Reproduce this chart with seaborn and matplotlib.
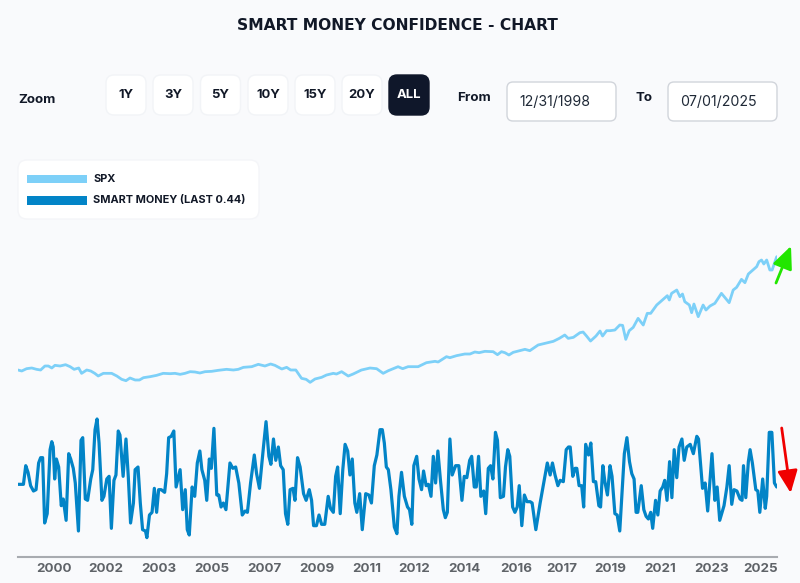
import matplotlib
matplotlib.use("Agg")
import matplotlib.pyplot as plt
from matplotlib.patches import FancyBboxPatch, Rectangle
import pandas as pd
import seaborn as sns

TITLE = "SMART MONEY CONFIDENCE - CHART"
range_buttons = ["1Y", "3Y", "5Y", "10Y", "15Y", "20Y", "ALL"]
legend_labels = ["SPX", "SMART MONEY (LAST 0.44)"]
date_from = "12/31/1998"
date_to = "07/01/2025"

tick_years = [2000.26, 2002.07, 2003.92, 2005.77, 2007.59, 2009.44, 2011.19, 2012.83,
              2014.57, 2016.39, 2018.0, 2019.67, 2021.42, 2023.2, 2024.94]
tick_labels = ["2000", "2002", "2003", "2005", "2007", "2009", "2011", "2012",
               "2014", "2016", "2017", "2019", "2021", "2023", "2025"]

spx_years = [1999.00, 1999.13, 1999.30, 1999.48, 1999.65, 1999.79, 1999.94, 2000.06, 2000.18, 2000.29,
             2000.47, 2000.66, 2000.82, 2000.96, 2001.12, 2001.22, 2001.40, 2001.54, 2001.68, 2001.80,
             2001.98, 2002.12, 2002.27, 2002.45, 2002.62, 2002.77, 2002.91, 2003.09, 2003.24, 2003.38,
             2003.61, 2003.84, 2004.07, 2004.31, 2004.48, 2004.66, 2004.83, 2005.01, 2005.18, 2005.35,
             2005.53, 2005.76, 2005.99, 2006.28, 2006.52, 2006.69, 2006.87, 2007.16, 2007.39, 2007.62,
             2007.82, 2007.97, 2008.21, 2008.38, 2008.52, 2008.70, 2008.90, 2009.06, 2009.20, 2009.37,
             2009.60, 2009.77, 2010.01, 2010.12, 2010.30, 2010.53, 2010.70, 2010.99, 2011.29, 2011.52,
             2011.75, 2011.93, 2012.27, 2012.43, 2012.62, 2012.97, 2013.26, 2013.56, 2013.67, 2013.96,
             2014.08, 2014.31, 2014.60, 2014.78, 2014.95, 2015.10, 2015.30, 2015.59, 2015.74, 2015.88,
             2016.00, 2016.14, 2016.29, 2016.52, 2016.70, 2016.87, 2017.16, 2017.45, 2017.69, 2017.90,
             2018.09, 2018.21, 2018.39, 2018.62, 2018.73, 2018.85, 2018.99, 2019.18, 2019.32, 2019.41,
             2019.55, 2019.67, 2019.84, 2020.01, 2020.11, 2020.22, 2020.34, 2020.48, 2020.65, 2020.83,
             2020.97, 2021.09, 2021.30, 2021.47, 2021.67, 2021.74, 2021.82, 2022.00, 2022.11, 2022.20,
             2022.28, 2022.44, 2022.52, 2022.60, 2022.75, 2022.92, 2023.02, 2023.16, 2023.33, 2023.56,
             2023.83, 2023.97, 2024.09, 2024.26, 2024.38, 2024.50, 2024.79, 2024.87, 2024.96, 2025.04,
             2025.14, 2025.25, 2025.33, 2025.49]
spx_values = [1229, 1185, 1287, 1317, 1258, 1229, 1405, 1405, 1317, 1434,
              1405, 1463, 1375, 1258, 1317, 1082, 1229, 1185, 1082, 965,
              1082, 1082, 1082, 965, 818, 759, 877, 789, 789, 891,
              935, 994, 1082, 1067, 1082, 1038, 1082, 1155, 1141, 1097,
              1155, 1170, 1214, 1258, 1229, 1258, 1346, 1375, 1478, 1405,
              1493, 1434, 1273, 1346, 1229, 1229, 862, 818, 686, 833,
              906, 1008, 1082, 1052, 1155, 964, 1052, 1228, 1316, 1287,
              1082, 1199, 1375, 1287, 1375, 1375, 1551, 1610, 1581, 1815,
              1771, 1859, 1933, 1933, 2021, 1991, 2050, 2035, 1903, 2035,
              1991, 1889, 2006, 2079, 2138, 2079, 2329, 2417, 2490, 2622,
              2768, 2621, 2665, 2871, 2900, 2724, 2504, 2724, 2944, 2724,
              2959, 2959, 2988, 3208, 3193, 2577, 2959, 3105, 3501, 3208,
              3722, 3722, 4088, 4279, 4499, 4308, 4602, 4748, 4455, 4572,
              4235, 4088, 3751, 4132, 3575, 4088, 3868, 4044, 4162, 4602,
              4191, 4748, 4866, 5218, 5071, 5453, 5775, 5995, 6069, 5893,
              6069, 5629, 5629, 6215]

smart_years = [1999.00, 1999.19, 1999.27, 1999.35, 1999.44, 1999.54, 1999.63, 1999.72, 1999.79, 1999.86,
               1999.93, 2000.02, 2000.12, 2000.18, 2000.23, 2000.28, 2000.34, 2000.42, 2000.51, 2000.58,
               2000.68, 2000.77, 2000.84, 2000.93, 2001.00, 2001.11, 2001.20, 2001.26, 2001.35, 2001.43,
               2001.54, 2001.61, 2001.69, 2001.76, 2001.83, 2001.93, 2002.00, 2002.10, 2002.18, 2002.26,
               2002.35, 2002.42, 2002.50, 2002.56, 2002.67, 2002.77, 2002.85, 2002.93, 2003.03, 2003.09,
               2003.19, 2003.27, 2003.35, 2003.45, 2003.50, 2003.59, 2003.68, 2003.76, 2003.84, 2003.91,
               2004.00, 2004.12, 2004.19, 2004.26, 2004.35, 2004.44, 2004.52, 2004.66, 2004.75, 2004.84,
               2004.91, 2004.98, 2005.08, 2005.17, 2005.26, 2005.35, 2005.42, 2005.52, 2005.59, 2005.68,
               2005.75, 2005.84, 2005.94, 2006.01, 2006.09, 2006.17, 2006.26, 2006.40, 2006.50, 2006.60,
               2006.71, 2006.83, 2006.93, 2007.01, 2007.12, 2007.25, 2007.33, 2007.43, 2007.57, 2007.66,
               2007.76, 2007.83, 2007.92, 2008.00, 2008.09, 2008.17, 2008.26, 2008.34, 2008.42, 2008.50,
               2008.60, 2008.67, 2008.76, 2008.85, 2008.97, 2009.06, 2009.17, 2009.25, 2009.32, 2009.42,
               2009.51, 2009.60, 2009.71, 2009.83, 2009.91, 2010.01, 2010.09, 2010.16, 2010.25, 2010.34,
               2010.42, 2010.51, 2010.59, 2010.67, 2010.76, 2010.83, 2010.93, 2011.02, 2011.14, 2011.25,
               2011.34, 2011.44, 2011.53, 2011.64, 2011.72, 2011.79, 2011.86, 2011.93, 2012.02, 2012.14,
               2012.23, 2012.30, 2012.39, 2012.49, 2012.60, 2012.67, 2012.75, 2012.82, 2012.92, 2013.00,
               2013.09, 2013.16, 2013.25, 2013.33, 2013.42, 2013.50, 2013.58, 2013.66, 2013.75, 2013.85,
               2013.92, 2013.99, 2014.08, 2014.16, 2014.28, 2014.39, 2014.50, 2014.58, 2014.67, 2014.77,
               2014.84, 2014.93, 2015.00, 2015.08, 2015.16, 2015.26, 2015.33, 2015.42, 2015.50, 2015.58,
               2015.67, 2015.74, 2015.84, 2015.95, 2016.02, 2016.10, 2016.17, 2016.27, 2016.35, 2016.43,
               2016.50, 2016.59, 2016.68, 2016.77, 2016.88, 2016.95, 2017.08, 2017.23, 2017.34, 2017.48,
               2017.58, 2017.66, 2017.75, 2017.85, 2017.93, 2018.04, 2018.14, 2018.22, 2018.28, 2018.37,
               2018.45, 2018.51, 2018.59, 2018.68, 2018.75, 2018.82, 2018.92, 2019.00, 2019.09, 2019.17,
               2019.28, 2019.34, 2019.42, 2019.49, 2019.58, 2019.67, 2019.74, 2019.84, 2019.92, 2020.01,
               2020.09, 2020.17, 2020.26, 2020.35, 2020.43, 2020.51, 2020.58, 2020.64, 2020.76, 2020.85,
               2020.93, 2021.01, 2021.09, 2021.16, 2021.26, 2021.34, 2021.42, 2021.51, 2021.58, 2021.66,
               2021.75, 2021.83, 2021.91, 2022.00, 2022.08, 2022.18, 2022.26, 2022.35, 2022.47, 2022.58,
               2022.70, 2022.76, 2022.90, 2022.99, 2023.08, 2023.23, 2023.33, 2023.41, 2023.50, 2023.65,
               2023.75, 2023.83, 2023.92, 2024.00, 2024.10, 2024.21, 2024.28, 2024.33, 2024.41, 2024.50,
               2024.56, 2024.64, 2024.76, 2024.83, 2024.90, 2025.00, 2025.09, 2025.14, 2025.23, 2025.32,
               2025.41, 2025.49]
smart_values = [.46, .46, .60, .55, .45, .41, .42, .62, .66, .66,
                .17, .24, .72, .78, .74, .50, .65, .59, .30, .35,
                .19, .69, .65, .58, .47, .11, .79, .81, .35, .34,
                .50, .57, .87, .95, .77, .34, .37, .50, .52, .13,
                .49, .53, .86, .83, .52, .80, .52, .17, .32, .57,
                .59, .32, .12, .11, .06, .23, .25, .43, .25, .42,
                .42, .40, .54, .81, .82, .86, .44, .57, .27, .42,
                .12, .08, .44, .37, .62, .71, .57, .49, .34, .65,
                .58, .88, .38, .38, .29, .32, .27, .62, .58, .59,
                .47, .23, .26, .25, .47, .68, .54, .43, .74, .93,
                .67, .61, .80, .64, .74, .60, .57, .24, .16, .42,
                .43, .34, .66, .59, .39, .34, .42, .34, .15, .15,
                .23, .16, .16, .37, .28, .25, .52, .59, .24, .57,
                .76, .71, .53, .65, .32, .25, .39, .12, .39, .38,
                .32, .60, .68, .87, .87, .77, .59, .57, .42, .14,
                .09, .37, .55, .37, .29, .27, .16, .60, .67, .50,
                .42, .56, .45, .46, .37, .67, .47, .71, .49, .27,
                .21, .25, .80, .53, .60, .60, .34, .52, .51, .64,
                .67, .44, .44, .67, .37, .41, .24, .58, .60, .50,
                .85, .79, .36, .37, .59, .72, .67, .29, .25, .29,
                .45, .15, .38, .33, .33, .32, .12, .32, .45, .62,
                .53, .62, .53, .45, .49, .48, .72, .74, .74, .52,
                .58, .58, .45, .45, .29, .76, .68, .77, .48, .48,
                .30, .29, .60, .48, .38, .60, .52, .24, .23, .11,
                .40, .69, .81, .63, .54, .50, .25, .25, .45, .27,
                .22, .20, .25, .13, .34, .23, .41, .44, .49, .34,
                .63, .36, .72, .51, .74, .80, .64, .74, .76, .69,
                .82, .80, .43, .47, .26, .69, .34, .44, .19, .30,
                .44, .60, .31, .42, .41, .35, .34, .60, .36, .63,
                .72, .62, .42, .41, .25, .50, .28, .37, .85, .85,
                .47, .44]

BG = "#f9fafc"
SPX_COLOR = "#7dd0f8"
SMART_COLOR = "#0284c7"
INK = "#111827"
FONT = "Inter"

sns.set_theme(style="white", rc={"font.family": FONT})
W, H = 800, 583
fig = plt.figure(figsize=(W / 100, H / 100), dpi=100, facecolor=BG)


def axes_px(x0, y0, x1, y1, **kw):
    return fig.add_axes([x0 / W, 1 - y1 / H, (x1 - x0) / W, (y1 - y0) / H], **kw)


XLIM = (1999.0, 2025.5)

ax_spx = axes_px(18, 240, 777, 400)
ax_spx.patch.set_alpha(0)
sns.lineplot(x=spx_years, y=spx_values, ax=ax_spx, color=SPX_COLOR, lw=2.0,
             estimator=None, sort=False)
ax_spx.set(xlim=XLIM, ylim=(-91, 6949), xticks=[], yticks=[])
sns.despine(ax=ax_spx, left=True, bottom=True)

ax_sm = axes_px(18, 405, 777, 557)
ax_sm.patch.set_alpha(0)
sns.lineplot(x=smart_years, y=smart_values, ax=ax_sm, color=SMART_COLOR, lw=2.3,
             estimator=None, sort=False)
ax_sm.set(xlim=XLIM, ylim=(-0.085, 1.055), yticks=[])
ax_sm.set_xticks(tick_years, tick_labels)
ax_sm.tick_params(axis="x", length=0, pad=4, labelsize=9.6, labelcolor="#5f6368")
for t in ax_sm.get_xticklabels():
    t.set_fontweight("bold")
sns.despine(ax=ax_sm, left=True)
ax_sm.spines["bottom"].set_color("#a8abb0")
ax_sm.spines["bottom"].set_linewidth(1.5)

# Interface chrome, laid out in figure pixels
ui = fig.add_axes([0, 0, 1, 1], zorder=5)
ui.set_xlim(0, W)
ui.set_ylim(H, 0)
ui.axis("off")


def box(x0, y0, x1, y1, face, edge="none", r=8, lw=1.0):
    ui.add_patch(FancyBboxPatch((x0 + r, y0 + r), x1 - x0 - 2 * r, y1 - y0 - 2 * r,
                                boxstyle=f"round,pad={r},rounding_size={r}",
                                fc=face, ec=edge, lw=lw))


ui.text(397, 26, TITLE, ha="center", va="center", fontsize=11.2, fontweight="bold",
        color=INK, family="DejaVu Sans")
ui.text(18, 100, "Zoom", ha="left", va="center", fontsize=9.6, fontweight="bold", color=INK)

button_left = [106, 153, 200.5, 248, 295, 342, 389]
for label, x in zip(range_buttons, button_left):
    active = label == "ALL"
    box(x, 75, x + 40, 115, "#0f172a" if active else "white",
        edge="#0f172a" if active else "#f2f4f7")
    ui.text(x + 20, 95, label, ha="center", va="center", fontsize=9.4, fontweight="bold",
            color="white" if active else INK)

ui.text(457, 98, "From", ha="left", va="center", fontsize=9.6, fontweight="bold", color=INK)
box(507, 82, 616, 121, "white", edge="#d1d5db", r=6)
ui.text(519, 102, date_from, ha="left", va="center", fontsize=10.2, color="#1f2937")
ui.text(636, 98, "To", ha="left", va="center", fontsize=9.6, fontweight="bold", color=INK)
box(668, 82, 777, 121, "white", edge="#d1d5db", r=6)
ui.text(680, 102, date_to, ha="left", va="center", fontsize=10.2, color="#1f2937")

box(18, 160, 259, 219, "white", edge="#f4f5f8", r=9)
ui.add_patch(Rectangle((27, 175), 60, 8, fc=SPX_COLOR, ec="none"))
ui.add_patch(Rectangle((27, 196), 60, 9, fc=SMART_COLOR, ec="none"))
ui.text(93, 179, legend_labels[0], ha="left", va="center", fontsize=7.9, fontweight="bold", color=INK)
ui.text(93, 200.5, legend_labels[1], ha="left", va="center", fontsize=7.9, fontweight="bold", color=INK)

arrow = dict(arrowstyle="-|>,head_length=0.85,head_width=0.38", shrinkA=0, shrinkB=0, lw=2.0,
             mutation_scale=16)
ui.annotate("", xy=(791, 246), xytext=(776, 283), arrowprops=dict(color="#22e600", **arrow))
ui.annotate("", xy=(790.7, 493), xytext=(781.7, 428), arrowprops=dict(color="#f00000", **arrow))

fig.savefig("out.png", dpi=100, facecolor=BG)
